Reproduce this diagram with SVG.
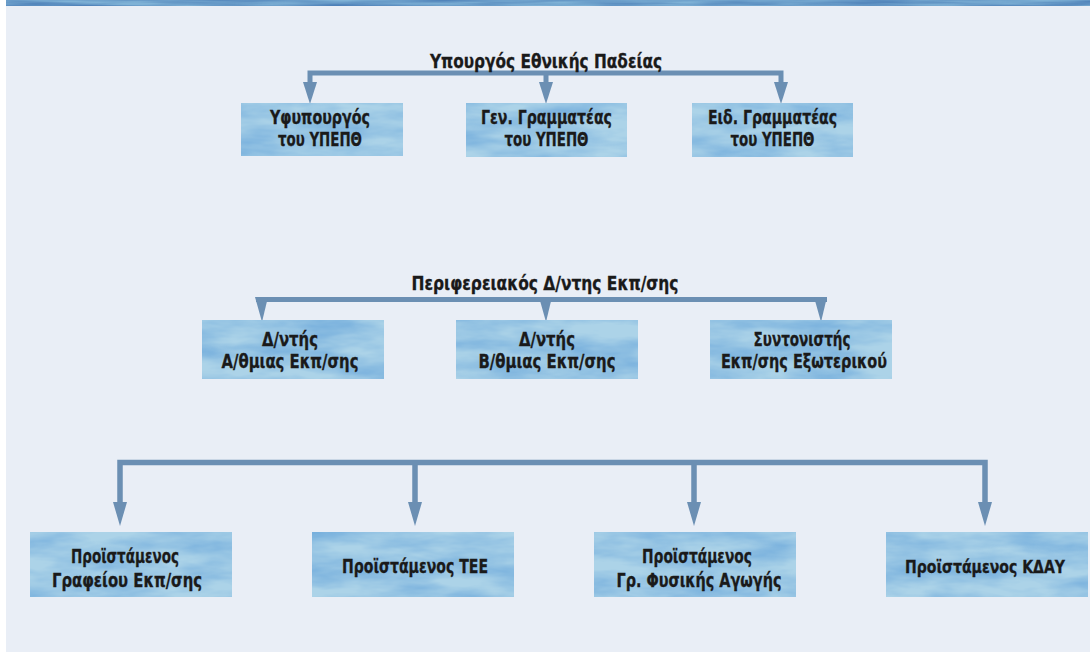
<svg xmlns="http://www.w3.org/2000/svg" width="1090" height="652" viewBox="0 0 1090 652">
<defs>
<filter id="wc" x="0" y="0" width="100%" height="100%" color-interpolation-filters="sRGB">
<feTurbulence type="fractalNoise" baseFrequency="0.014 0.05" numOctaves="4" seed="11" result="n"/>
<feColorMatrix in="n" type="matrix" values="0 0 0 0 0.44  0 0 0 0 0.67  0 0 0 0 0.86  1.5 0 0 0 -0.42" result="c"/>
<feComposite in="c" in2="SourceGraphic" operator="atop"/>
</filter>
<filter id="wc2" x="0" y="0" width="100%" height="100%" color-interpolation-filters="sRGB">
<feTurbulence type="fractalNoise" baseFrequency="0.01 0.2" numOctaves="3" seed="3" result="n"/>
<feColorMatrix in="n" type="matrix" values="0 0 0 0 0.3  0 0 0 0 0.5  0 0 0 0 0.72  1.8 0 0 0 -0.5" result="c"/>
<feComposite in="c" in2="SourceGraphic" operator="atop"/>
</filter>
</defs>
<style>
.box{fill:#acd3e8;filter:url(#wc)}
.t{font-family:"DejaVu Sans Condensed","DejaVu Sans","Liberation Sans",sans-serif;font-stretch:condensed;font-weight:bold;font-size:20px;fill:#1a1a1a;text-anchor:middle;stroke:#1a1a1a;stroke-width:0.3}
.ln{fill:none;stroke:#6b8fb3;stroke-width:5;stroke-linejoin:miter;stroke-linecap:butt}
.ah{fill:#6b8fb3}
</style>
<rect x="0" y="0" width="1090" height="652" fill="#ffffff"/>
<rect x="6" y="6" width="1084" height="646" fill="#e9eef6"/>
<rect x="6" y="0" width="1084" height="6" fill="#7fb2d6" filter="url(#wc2)"/>

<g id="connectors">
<path class="ln" d="M310,84 V73 H781 V84 M546,73 V84"/>
<polygon class="ah" points="303,82 317,82 310,104"/>
<polygon class="ah" points="539,82 553,82 546,104"/>
<polygon class="ah" points="774,82 788,82 781,104"/>
<path class="ln" d="M256,299.5 H827"/>
<polygon class="ah" points="255,297 268,297 262,322"/>
<polygon class="ah" points="539,297 552,297 546,322"/>
<polygon class="ah" points="814,297 827,297 821,322"/>
<path class="ln" style="stroke-width:5.5" d="M120,503 V462.5 H985 V503 M415,462.5 V503 M694,462.5 V503"/>
<polygon class="ah" points="113,502 127,502 120,526"/>
<polygon class="ah" points="408,502 422,502 415,526"/>
<polygon class="ah" points="687,502 701,502 694,526"/>
<polygon class="ah" points="978,502 992,502 985,526"/>
</g>

<g id="n-ypourgos">
<text class="t" x="546" y="68" textLength="232" lengthAdjust="spacingAndGlyphs">Υπουργός Εθνικής Παδείας</text>
</g>
<g id="n-yfypourgos">
<rect class="box" x="241" y="103" width="162" height="53"/>
<text class="t" x="320" y="124" textLength="100" lengthAdjust="spacingAndGlyphs">Υφυπουργός</text>
<text class="t" x="320" y="146" textLength="84" lengthAdjust="spacingAndGlyphs">του ΥΠΕΠΘ</text>
</g>
<g id="n-gen-gram">
<rect class="box" x="466" y="103" width="161" height="54"/>
<text class="t" x="546.5" y="124" textLength="131" lengthAdjust="spacingAndGlyphs">Γεν. Γραμματέας</text>
<text class="t" x="546.5" y="146" textLength="84" lengthAdjust="spacingAndGlyphs">του ΥΠΕΠΘ</text>
</g>
<g id="n-eid-gram">
<rect class="box" x="692" y="103" width="161" height="54"/>
<text class="t" x="772.5" y="124" textLength="129" lengthAdjust="spacingAndGlyphs">Ειδ. Γραμματέας</text>
<text class="t" x="772.5" y="146" textLength="84" lengthAdjust="spacingAndGlyphs">του ΥΠΕΠΘ</text>
</g>

<g id="n-perif">
<text class="t" x="545" y="290" textLength="267" lengthAdjust="spacingAndGlyphs">Περιφερειακός Δ/ντης Εκπ/σης</text>
</g>
<g id="n-dntis-a">
<rect class="box" x="202" y="320" width="182" height="59"/>
<text class="t" x="290" y="346" textLength="56" lengthAdjust="spacingAndGlyphs">Δ/ντής</text>
<text class="t" x="290" y="368" textLength="137" lengthAdjust="spacingAndGlyphs">Α/θμιας Εκπ/σης</text>
</g>
<g id="n-dntis-b">
<rect class="box" x="456" y="320" width="182" height="59"/>
<text class="t" x="547" y="346" textLength="56" lengthAdjust="spacingAndGlyphs">Δ/ντής</text>
<text class="t" x="547" y="368" textLength="137" lengthAdjust="spacingAndGlyphs">Β/θμιας Εκπ/σης</text>
</g>
<g id="n-syntonistis">
<rect class="box" x="710" y="320" width="182" height="59"/>
<text class="t" x="802" y="346" textLength="97" lengthAdjust="spacingAndGlyphs">Συντονιστής</text>
<text class="t" x="804" y="368" textLength="166" lengthAdjust="spacingAndGlyphs">Εκπ/σης Εξωτερικού</text>
</g>

<g id="n-pr-grafeiou">
<rect class="box" x="30" y="532" width="202" height="65"/>
<text class="t" x="125" y="563" textLength="108" lengthAdjust="spacingAndGlyphs">Προϊστάμενος</text>
<text class="t" x="127" y="587" textLength="150" lengthAdjust="spacingAndGlyphs">Γραφείου Εκπ/σης</text>
</g>
<g id="n-pr-tee">
<rect class="box" x="312" y="532" width="202" height="65"/>
<text class="t" x="415" y="573" textLength="146" lengthAdjust="spacingAndGlyphs">Προϊστάμενος ΤΕΕ</text>
</g>
<g id="n-pr-fa">
<rect class="box" x="594" y="532" width="202" height="65"/>
<text class="t" x="697" y="563" textLength="110" lengthAdjust="spacingAndGlyphs">Προϊστάμενος</text>
<text class="t" x="699" y="587" textLength="165" lengthAdjust="spacingAndGlyphs">Γρ. Φυσικής Αγωγής</text>
</g>
<g id="n-pr-kday">
<rect class="box" x="886" y="532" width="202" height="65"/>
<text class="t" x="985" y="573" textLength="160" lengthAdjust="spacingAndGlyphs" style="font-size:18px">Προϊστάμενος ΚΔΑΥ</text>
</g>
</svg>
